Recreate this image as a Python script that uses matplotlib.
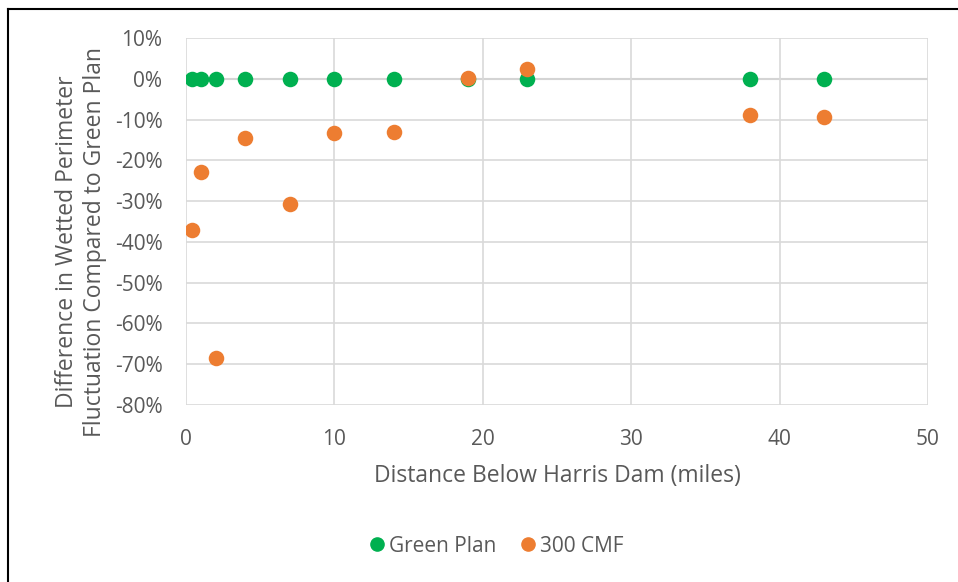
import matplotlib.pyplot as plt
from matplotlib.ticker import FuncFormatter, MultipleLocator
from matplotlib.lines import Line2D

# Data
distance = [0.4, 1, 2, 4, 7, 10, 14, 19, 23, 38, 43]
green_plan = [0, 0, 0, 0, 0, 0, 0, 0, 0, 0, 0]
cmf_300 = [-0.370, -0.228, -0.684, -0.146, -0.307, -0.132, -0.131, 0.003, 0.025, -0.089, -0.093]

plt.rcParams['font.family'] = ['Open Sans', 'DejaVu Sans']
txt = '#595959'

fig = plt.figure(figsize=(9.58, 5.82), dpi=100)
ax = fig.add_axes([186/958, 1-405/582, (928-186)/958, (405-38)/582])

ax.scatter(distance, green_plan, s=125, color='#00B050', zorder=3, linewidths=0, label='Green Plan')
ax.scatter(distance, cmf_300, s=125, color='#ED7D31', zorder=4, linewidths=0, label='300 CMF')

ax.set_xlim(0, 50)
ax.set_ylim(-0.8, 0.1)
ax.xaxis.set_major_locator(MultipleLocator(10))
ax.yaxis.set_major_locator(MultipleLocator(0.1))
ax.yaxis.set_major_formatter(FuncFormatter(lambda v, p: '{:.0f}%'.format(round(v*100))))

ax.grid(True, color='#d9d9d9', linewidth=1.2, zorder=0)
ax.axhline(0, color='#bfbfbf', linewidth=1.5, zorder=1)
for s in ax.spines.values():
    s.set_visible(False)
ax.tick_params(length=0, labelsize=15, colors=txt)
ax.tick_params(axis='y', pad=17)
ax.tick_params(axis='x', pad=17)

ax.set_xlabel('Distance Below Harris Dam (miles)', fontsize=16.5, color=txt, labelpad=10)
ax.set_ylabel('Difference in Wetted Perimeter\nFluctuation Compared to Green Plan',
              fontsize=16.5, color=txt, linespacing=1.2)
ax.yaxis.set_label_coords(-0.107, 0.445)

handles = [Line2D([], [], marker='o', linestyle='', color='#00B050', markersize=9.5),
           Line2D([], [], marker='o', linestyle='', color='#ED7D31', markersize=9.5)]
fig.legend(handles, ['Green Plan', '300 CMF'], loc='center', bbox_to_anchor=(494/958, 1-546/582),
           ncol=2, frameon=False, fontsize=15, labelcolor=txt, handletextpad=0.0,
           columnspacing=0.9, handlelength=1.2)

# figure border (left and top only)
fig.add_artist(Line2D([8/958, 8/958], [0, 1-9/582], color='black', linewidth=1.5))
fig.add_artist(Line2D([8/958, 1], [1-9/582, 1-9/582], color='black', linewidth=1.5))

fig.savefig('out.png', dpi=100)
